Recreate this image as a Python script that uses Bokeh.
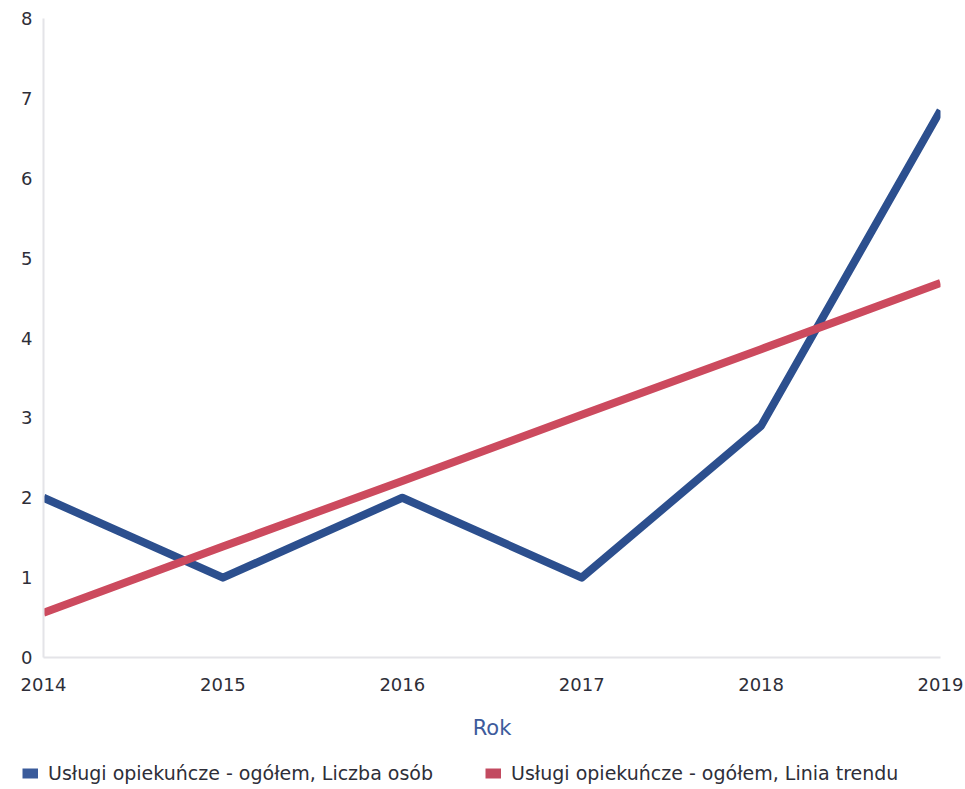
from bokeh.plotting import figure
from bokeh.layouts import column
from bokeh.models import Range1d, FixedTicker, Legend, LegendItem, ColumnDataSource
from bokeh.embed import file_html
from bokeh.resources import INLINE

years = [2014, 2015, 2016, 2017, 2018, 2019]
liczba_osob = [2, 1, 2, 1, 2.9, 6.85]
linia_trendu = [0.56, 1.39, 2.21, 3.04, 3.86, 4.69]
y_ticks = [0, 1, 2, 3, 4, 5, 6, 7, 8]
name_a = "Usługi opiekuńcze - ogółem, Liczba osób"
name_b = "Usługi opiekuńcze - ogółem, Linia trendu"
x_title = "Rok"

BLUE = "#2c4f8e"
RED = "#cc4a5e"
FONT = "DejaVu Sans"
TXT = "#2e2e38"

p = figure(frame_width=897, frame_height=639, output_backend="svg", toolbar_location=None,
           x_range=Range1d(2014, 2019), y_range=Range1d(0, 8),
           min_border_left=43, min_border_right=25, min_border_top=18, min_border_bottom=92)
p.frame_align = False
p.outline_line_color = None
p.xgrid.grid_line_color = None
p.ygrid.grid_line_color = None

src = ColumnDataSource(dict(x=years, a=liczba_osob, b=linia_trendu))
p.line("x", "a", source=src, line_color=BLUE, line_width=8, line_join="round")
p.line("x", "b", source=src, line_color=RED, line_width=8, line_join="round")

for ax in (p.xaxis[0], p.yaxis[0]):
    ax.axis_line_color = "#e4e4e8"
    ax.axis_line_width = 2
    ax.major_tick_line_color = None
    ax.minor_tick_line_color = None
    ax.major_label_text_font = FONT
    ax.major_label_text_font_size = "18px"
    ax.major_label_text_color = TXT

p.xaxis.ticker = FixedTicker(ticks=years)
p.yaxis.ticker = FixedTicker(ticks=y_ticks)
p.xaxis.major_label_standoff = 14
p.yaxis.major_label_standoff = 5
p.xaxis.axis_label = x_title
p.xaxis.axis_label_text_font = FONT
p.xaxis.axis_label_text_font_size = "21px"
p.xaxis.axis_label_text_font_style = "normal"
p.xaxis.axis_label_text_color = "#3d5b9c"
p.xaxis.axis_label_standoff = 22

# legend strip below the chart
p2 = figure(width=965, height=40, output_backend="svg", toolbar_location=None,
            x_axis_location=None, y_axis_location=None,
            min_border_left=0, min_border_right=0, min_border_top=0, min_border_bottom=0)
p2.frame_align = False
p2.outline_line_color = None
p2.xgrid.grid_line_color = None
p2.ygrid.grid_line_color = None
la = p2.line("x", "a", source=src, line_color="#3a5b9b", line_width=10, visible=False)
lb = p2.line("x", "b", source=src, line_color="#c24a60", line_width=10, visible=False)

legend = Legend(items=[LegendItem(label=name_a, renderers=[la]),
                       LegendItem(label=name_b, renderers=[lb])],
                orientation="horizontal", location=(22, 5),
                label_text_font=FONT, label_text_font_size="19px", label_text_color=TXT,
                glyph_width=16, glyph_height=14, label_standoff=10, spacing=52,
                border_line_color=None, background_fill_alpha=0,
                inactive_fill_alpha=0, padding=0, margin=0)
p2.add_layout(legend, "center")

layout = column(p, p2, spacing=0)
open("out.html", "w").write(file_html(layout, INLINE))
